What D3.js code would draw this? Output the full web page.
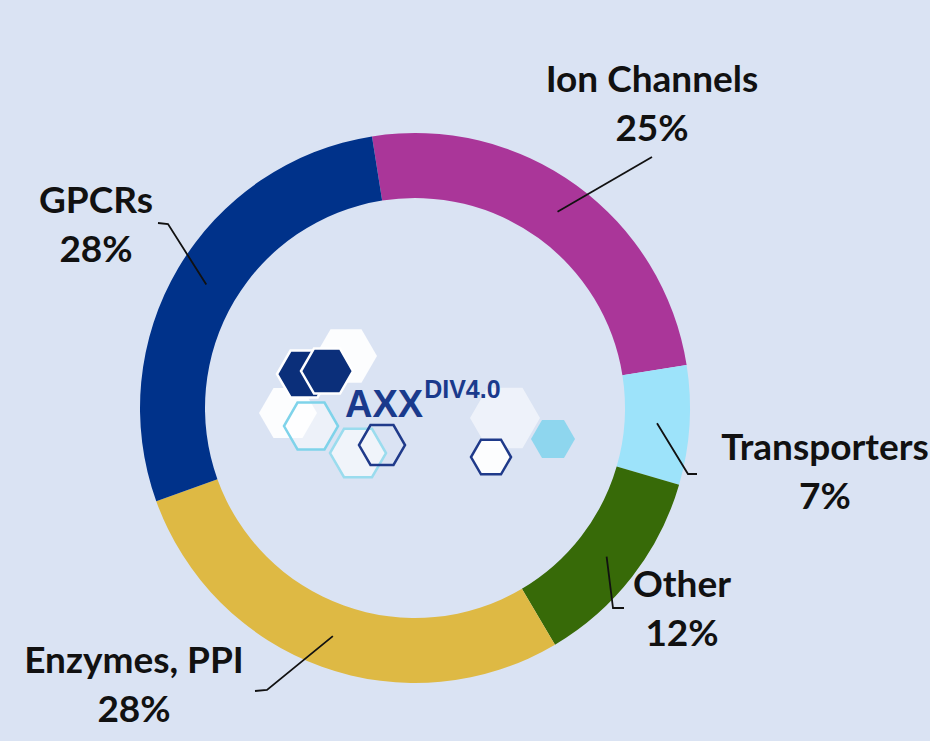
<!DOCTYPE html>
<html>
<head>
<meta charset="utf-8">
<script src="https://cdn.jsdelivr.net/npm/d3@7"></script>
<style>
  html, body { margin: 0; padding: 0; background: #dae3f3; overflow: hidden; }
  svg { display: block; }
</style>
</head>
<body>
<svg id="chart"></svg>
<script>
// Data
var categories = ["Ion Channels", "Transporters", "Other", "Enzymes, PPI", "GPCRs"];
var values = [25, 7, 12, 28, 28];
var colors = ["#aa3699", "#9de3fa", "#376a08", "#deb944", "#00328a"];

var Chart = (function(d3) {
  var width = 930,
    height = 741;
  var cx = 415,
    cy = 408,
    outerR = 275,
    innerR = 210;
  var startAngle = -9 * Math.PI / 180;
  var fontSize = 37,
    lineGap = 49;

  // Leader line bends and label anchors, keyed by category
  var layout = {
    "Ion Channels": { bend: [[652, 157]], tx: 652, ty: 92 },
    "Transporters": { bend: [[688, 474], [697, 474]], tx: 825, ty: 460 },
    "Other": { bend: [[613, 608], [624, 608]], tx: 682, ty: 597 },
    "Enzymes, PPI": { bend: [[267, 690], [255, 691]], tx: 134, ty: 673 },
    "GPCRs": { bend: [[168, 224], [158, 223]], tx: 96, ty: 213 }
  };

  var data = categories.map(function(c, i) {
    return { name: c, value: values[i], color: colors[i] };
  });

  var svg = d3
    .select("#chart")
    .attr("width", width)
    .attr("height", height);

  svg
    .append("rect")
    .attr("width", width)
    .attr("height", height)
    .attr("fill", "#dae3f3");

  var pie = d3
    .pie()
    .sort(null)
    .value(d => d.value)
    .startAngle(startAngle)
    .endAngle(startAngle + 2 * Math.PI);

  var arc = d3
    .arc()
    .innerRadius(innerR)
    .outerRadius(outerR);

  var arcs = pie(data);

  // Logo in the hole
  drawLogo(svg.append("g"));

  // Ring
  var ring = svg.append("g").attr("transform", `translate(${cx}, ${cy})`);
  ring
    .selectAll("path")
    .data(arcs)
    .enter()
    .append("path")
    .attr("d", arc)
    .attr("fill", d => d.data.color);

  // Leader lines
  var line = d3.line();
  svg
    .selectAll("path.leader")
    .data(arcs)
    .enter()
    .append("path")
    .attr("class", "leader")
    .attr("d", function(d) {
      var c = arc.centroid(d);
      var pts = [[cx + c[0], cy + c[1]]].concat(layout[d.data.name].bend);
      return line(pts);
    })
    .attr("fill", "none")
    .attr("stroke", "#111")
    .attr("stroke-width", 1.8);

  // Labels
  var labels = svg
    .selectAll("text.label")
    .data(arcs)
    .enter()
    .append("text")
    .attr("class", "label")
    .attr("text-anchor", "middle")
    .style("font-family", "Lato, 'Open Sans', sans-serif")
    .style("font-weight", "bold")
    .style("font-size", fontSize + "px")
    .attr("fill", "#111");

  labels
    .append("tspan")
    .attr("x", d => layout[d.data.name].tx)
    .attr("y", d => layout[d.data.name].ty)
    .text(d => d.data.name);

  labels
    .append("tspan")
    .attr("x", d => layout[d.data.name].tx)
    .attr("y", d => layout[d.data.name].ty + lineGap)
    .text(d => d.data.value + "%");

  function hexPath(x, y, r) {
    var pts = d3.range(6).map(function(i) {
      var a = (Math.PI / 3) * i;
      return [x + r * Math.cos(a), y + r * Math.sin(a)];
    });
    return d3.line()(pts) + "Z";
  }

  function drawLogo(g) {
    var hexes = [
      { x: 346, y: 356, r: 31, fill: "#ffffff", op: 0.9, stroke: "none" },
      { x: 288, y: 413, r: 29, fill: "#ffffff", op: 0.9, stroke: "none" },
      { x: 505, y: 418, r: 35, fill: "#ffffff", op: 0.55, stroke: "none" },
      { x: 304, y: 374, r: 27, fill: "#0b2f7a", op: 1, stroke: "#ffffff" },
      { x: 327, y: 371, r: 26, fill: "#0b2f7a", op: 1, stroke: "#ffffff" },
      { x: 311, y: 426, r: 27, fill: "#ffffff", op: 0.5, stroke: "#7fd3ea" },
      { x: 358, y: 453, r: 28, fill: "#ffffff", op: 0.6, stroke: "#9adcee" },
      { x: 382, y: 445, r: 23, fill: "none", op: 1, stroke: "#1f3a8a" },
      { x: 553, y: 439, r: 22, fill: "#8ed6ee", op: 1, stroke: "none" },
      { x: 491, y: 457, r: 20, fill: "#ffffff", op: 0.9, stroke: "#1f3a8a" }
    ];
    g.selectAll("path")
      .data(hexes)
      .enter()
      .append("path")
      .attr("d", d => hexPath(d.x, d.y, d.r))
      .attr("fill", d => d.fill)
      .attr("fill-opacity", d => d.op)
      .attr("stroke", d => d.stroke)
      .attr("stroke-width", 2.5);

    var t = g
      .append("text")
      .attr("x", 345)
      .attr("y", 417)
      .style("font-family", "'Liberation Sans', Arial, sans-serif")
      .style("font-weight", "bold")
      .attr("fill", "#1a3a8c");
    t.append("tspan")
      .style("font-size", "38px")
      .text("AXX");
    t.append("tspan")
      .attr("dy", -19)
      .attr("dx", 1)
      .style("font-size", "25px")
      .text("DIV4.0");
  }

  return { svg: svg };
})(d3);
</script>
</body>
</html>
